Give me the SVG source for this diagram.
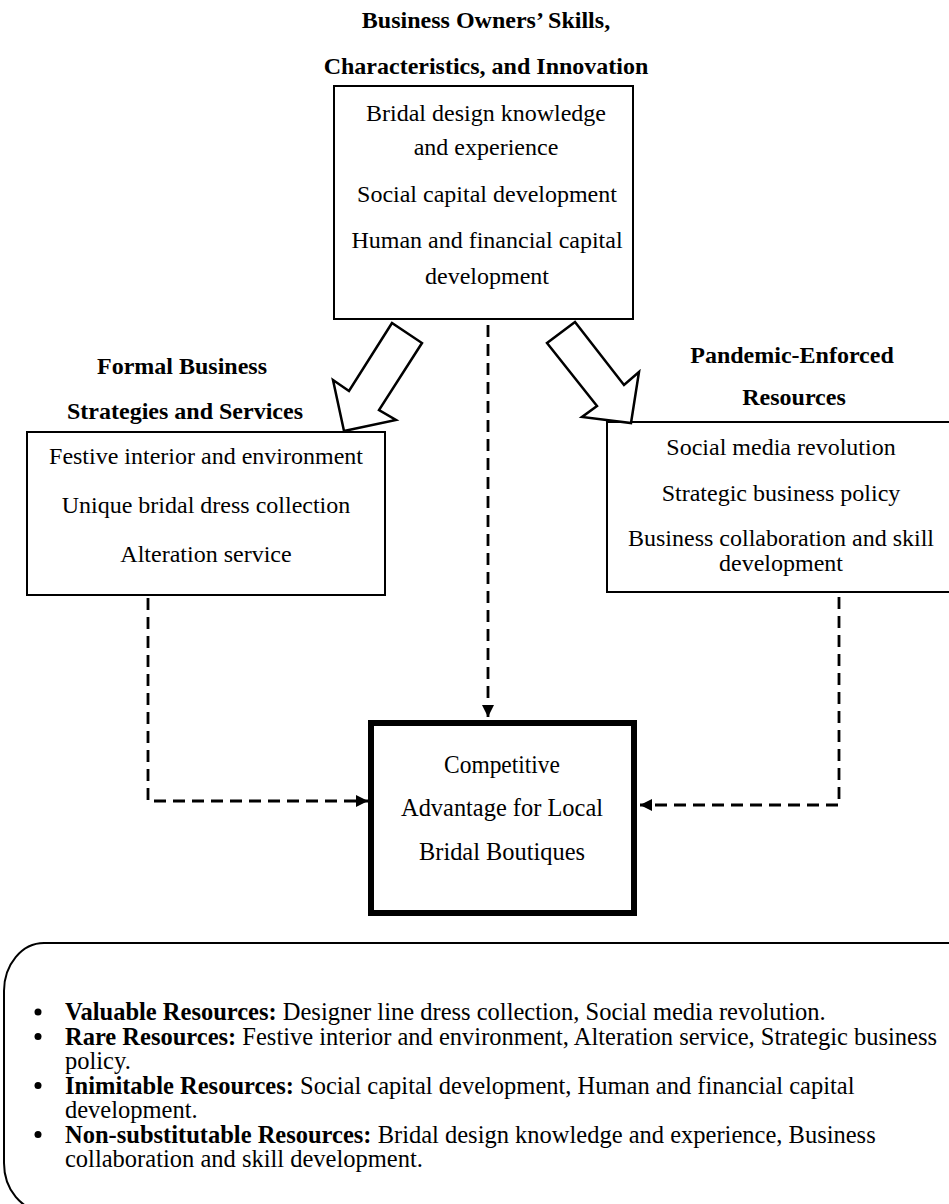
<svg xmlns="http://www.w3.org/2000/svg" width="949" height="1204" viewBox="0 0 949 1204">
<style>
text{font-family:"Liberation Serif","Times New Roman",serif;fill:#000}
.t{font-size:24px;font-weight:bold;text-anchor:middle}
.b{font-size:24px;text-anchor:middle}
.c{font-size:26px;text-anchor:middle}
.l{font-size:24.5px}
.box{fill:#fff;stroke:#000;stroke-width:2}
.dash{fill:none;stroke:#000;stroke-width:2.8;stroke-dasharray:12 7}
.big{fill:#fff;stroke:#000;stroke-width:2.5;stroke-linejoin:miter}
</style>
<defs>
<marker id="ah" viewBox="0 0 10 10" refX="10" refY="5" markerWidth="12" markerHeight="12" markerUnits="userSpaceOnUse" orient="auto">
<path d="M0,0 L10,5 L0,10 z" fill="#000"/>
</marker>
</defs>
<rect width="949" height="1204" fill="#fff"/>
<g id="owners">
<text class="t" x="486" y="28">Business Owners’ Skills,</text>
<text class="t" x="486" y="74">Characteristics, and Innovation</text>
<rect class="box" x="334" y="86" width="299" height="233"/>
<text class="b" x="486" y="121">Bridal design knowledge</text>
<text class="b" x="486" y="155">and experience</text>
<text class="b" x="487" y="202">Social capital development</text>
<text class="b" x="487" y="248">Human and financial capital</text>
<text class="b" x="487" y="284">development</text>
</g>
<g id="formal">
<text class="t" x="182" y="374">Formal Business</text>
<text class="t" x="185" y="419">Strategies and Services</text>
<rect class="box" x="27" y="432" width="358" height="163"/>
<text class="b" x="206" y="464">Festive interior and environment</text>
<text class="b" x="206" y="513">Unique bridal dress collection</text>
<text class="b" x="206" y="562">Alteration service</text>
</g>
<g id="pandemic">
<text class="t" x="792" y="363">Pandemic-Enforced</text>
<text class="t" x="794" y="405">Resources</text>
<rect class="box" x="607" y="422" width="345" height="170"/>
<text class="b" x="781" y="455">Social media revolution</text>
<text class="b" x="781" y="501">Strategic business policy</text>
<text class="b" x="781" y="546">Business collaboration and skill</text>
<text class="b" x="781" y="571">development</text>
</g>
<g id="advantage">
<rect x="371" y="723" width="263" height="190" fill="#fff" stroke="#000" stroke-width="6"/>
<text class="c" x="502" y="773" textLength="116" lengthAdjust="spacingAndGlyphs">Competitive</text>
<text class="c" x="502" y="816" textLength="202" lengthAdjust="spacingAndGlyphs">Advantage for Local</text>
<text class="c" x="502" y="860" textLength="166" lengthAdjust="spacingAndGlyphs">Bridal Boutiques</text>
</g>
<g id="connectors">
<polygon class="big" points="392,323 349,391 333,380 344,431 396,420 379,410 422,343"/>
<polygon class="big" points="575,322 547,343 597,406 582,417 631,423 639,372 624,385"/>
<path class="dash" d="M488,325 V717" marker-end="url(#ah)"/>
<path class="dash" d="M148,598 V801 H368" marker-end="url(#ah)"/>
<path class="dash" d="M839,597 V805 H640" marker-end="url(#ah)"/>
</g>
<g id="legend">
<rect x="4" y="943" width="1000" height="268" rx="40" ry="48" fill="none" stroke="#000" stroke-width="2"/>
<circle cx="38" cy="1012" r="3.5"/>
<circle cx="38" cy="1036.5" r="3.5"/>
<circle cx="38" cy="1085.5" r="3.5"/>
<circle cx="38" cy="1134.5" r="3.5"/>
<text class="l" x="65" y="1020"><tspan font-weight="bold">Valuable Resources:</tspan> Designer line dress collection, Social media revolution.</text>
<text class="l" x="65" y="1044.5"><tspan font-weight="bold">Rare Resources:</tspan> Festive interior and environment, Alteration service, Strategic business</text>
<text class="l" x="65" y="1069">policy.</text>
<text class="l" x="65" y="1093.5"><tspan font-weight="bold">Inimitable Resources:</tspan> Social capital development, Human and financial capital</text>
<text class="l" x="65" y="1118">development.</text>
<text class="l" x="65" y="1142.5"><tspan font-weight="bold">Non-substitutable Resources:</tspan> Bridal design knowledge and experience, Business</text>
<text class="l" x="65" y="1167">collaboration and skill development.</text>
</g>
</svg>
